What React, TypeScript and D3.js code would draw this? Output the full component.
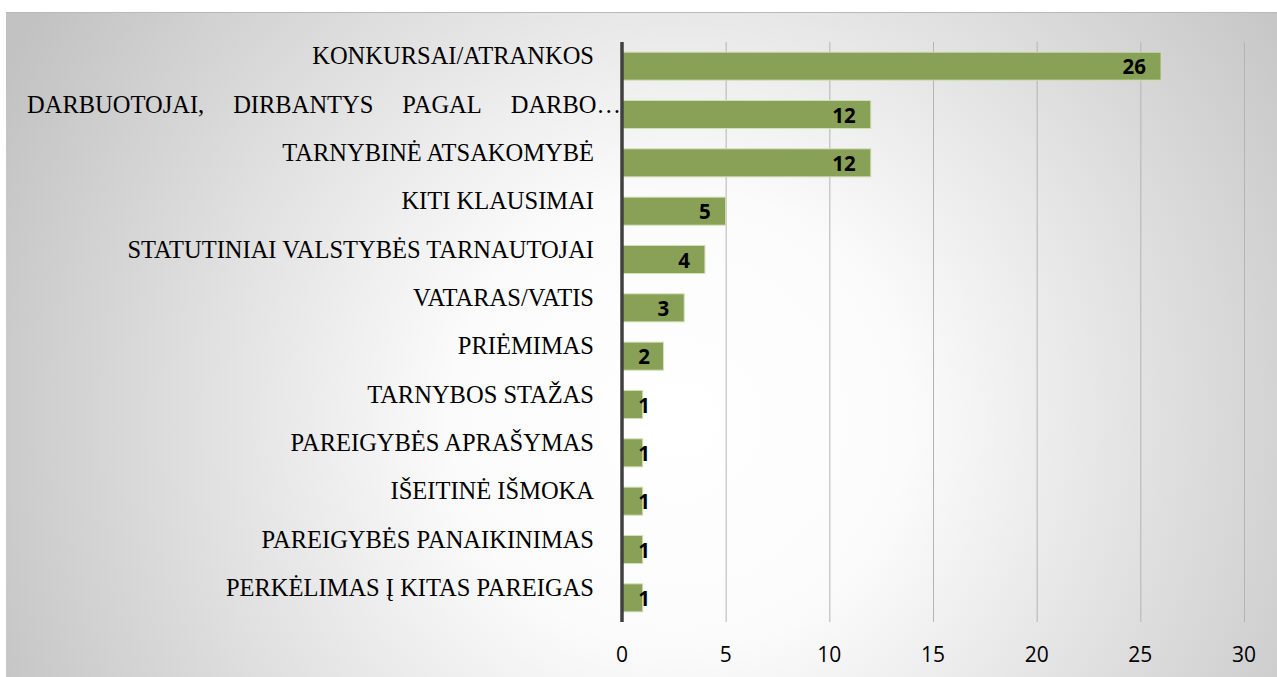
import React, { useEffect, useRef } from 'react';
import * as d3 from 'd3';

const categories = [
  'KONKURSAI/ATRANKOS',
  'DARBUOTOJAI, DIRBANTYS PAGAL DARBO…',
  'TARNYBINĖ ATSAKOMYBĖ',
  'KITI KLAUSIMAI',
  'STATUTINIAI VALSTYBĖS TARNAUTOJAI',
  'VATARAS/VATIS',
  'PRIĖMIMAS',
  'TARNYBOS STAŽAS',
  'PAREIGYBĖS APRAŠYMAS',
  'IŠEITINĖ IŠMOKA',
  'PAREIGYBĖS PANAIKINIMAS',
  'PERKĖLIMAS Į KITAS PAREIGAS',
];
const values = [26, 12, 12, 5, 4, 3, 2, 1, 1, 1, 1, 1];
const ticks = [0, 5, 10, 15, 20, 25, 30];
// long label that the original shows justified across the whole left side
const justified = ['DARBUOTOJAI, DIRBANTYS PAGAL DARBO…'];

const App = () => {
  const svgRef = useRef<SVGSVGElement>(null);
  const width = 1277;
  const height = 677;

  useEffect(() => {
    const svg = d3.select(svgRef.current);
    svg.selectAll('*').remove();

    const margin = { top: 42, left: 622, right: 33, bottom: 55 };

    // background
    const defs = svg.append('defs');
    const grad = defs.append('radialGradient')
      .attr('id', 'bg')
      .attr('gradientUnits', 'userSpaceOnUse')
      .attr('cx', 680).attr('cy', 420).attr('r', 760);
    grad.append('stop').attr('offset', '0').attr('stop-color', '#ffffff');
    grad.append('stop').attr('offset', '0.3').attr('stop-color', '#fbfbfb');
    grad.append('stop').attr('offset', '1').attr('stop-color', '#c2c2c2');

    svg.append('rect')
      .attr('x', 6).attr('y', 12)
      .attr('width', width - 6).attr('height', height - 12)
      .attr('fill', 'url(#bg)');
    svg.append('line')
      .attr('x1', 6).attr('x2', width).attr('y1', 12.5).attr('y2', 12.5)
      .attr('stroke', '#b8b8b8');

    const x = d3.scaleLinear()
      .domain([0, 30])
      .range([margin.left, width - margin.right]);

    const y = d3.scaleBand()
      .domain(categories)
      .range([margin.top, height - margin.bottom])
      .paddingInner(0.42)
      .paddingOuter(0.21);

    const plotBottom = height - margin.bottom;

    // gridlines
    svg.append('g')
      .selectAll('line')
      .data(ticks.filter(t => t > 0))
      .enter()
      .append('line')
      .attr('x1', d => x(d) + 0.5)
      .attr('x2', d => x(d) + 0.5)
      .attr('y1', margin.top)
      .attr('y2', plotBottom)
      .attr('stroke', '#b4b4b4')
      .attr('stroke-width', 1);

    // tick labels
    svg.append('g')
      .selectAll('text')
      .data(ticks)
      .enter()
      .append('text')
      .attr('x', d => x(d))
      .attr('y', plotBottom + 40)
      .attr('text-anchor', 'middle')
      .attr('font-family', '"Open Sans", sans-serif')
      .attr('font-size', 21)
      .attr('fill', '#000')
      .text(d => d);

    // bars
    svg.append('g')
      .selectAll('rect')
      .data(values)
      .enter()
      .append('rect')
      .attr('x', x(0))
      .attr('y', (d, i) => y(categories[i])!)
      .attr('width', d => x(d) - x(0))
      .attr('height', y.bandwidth())
      .attr('fill', '#88a157')
      .attr('stroke', '#d3e0b8')
      .attr('stroke-width', 1);

    // axis line
    svg.append('line')
      .attr('x1', x(0)).attr('x2', x(0))
      .attr('y1', margin.top).attr('y2', plotBottom)
      .attr('stroke', '#404040')
      .attr('stroke-width', 3.5);

    // value labels
    svg.append('g')
      .selectAll('text')
      .data(values)
      .enter()
      .append('text')
      .attr('x', d => Math.max(x(d) - 15, x(0) + 28))
      .attr('y', (d, i) => y(categories[i])! + y.bandwidth() / 2 + 8)
      .attr('text-anchor', 'end')
      .attr('font-family', '"Open Sans", sans-serif')
      .attr('font-weight', 700)
      .attr('font-size', 20.5)
      .attr('fill', '#000')
      .text(d => d);

    // category labels
    const labelFont = '"Liberation Serif", "Times New Roman", serif';
    const labelSize = 24.5;
    const labels = svg.append('g');
    categories.forEach(cat => {
      const cy = y(cat)! + y.bandwidth() / 2 - 2;
      if (justified.includes(cat)) {
        const words = cat.split(' ');
        const g = labels.append('g');
        const nodes = words.map(w => g.append('text')
          .attr('y', cy)
          .attr('font-family', labelFont)
          .attr('font-size', labelSize)
          .attr('fill', '#000')
          .text(w));
        const widths = nodes.map(n => (n.node() as SVGTextElement).getComputedTextLength());
        const left = 27;
        const right = 621;
        const total = d3.sum(widths);
        const gap = (right - left - total) / (words.length - 1);
        let pos = left;
        nodes.forEach((n, i) => {
          n.attr('x', pos);
          pos += widths[i] + gap;
        });
      } else {
        labels.append('text')
          .attr('x', 594)
          .attr('y', cy)
          .attr('text-anchor', 'end')
          .attr('font-family', labelFont)
          .attr('font-size', labelSize)
          .attr('fill', '#000')
          .text(cat);
      }
    });
  }, []);

  return (
    <svg
      ref={svgRef}
      width={width}
      height={height}
      style={{ position: 'absolute', left: 0, top: 0, background: '#fff' }}
    />
  );
};

export default App;
